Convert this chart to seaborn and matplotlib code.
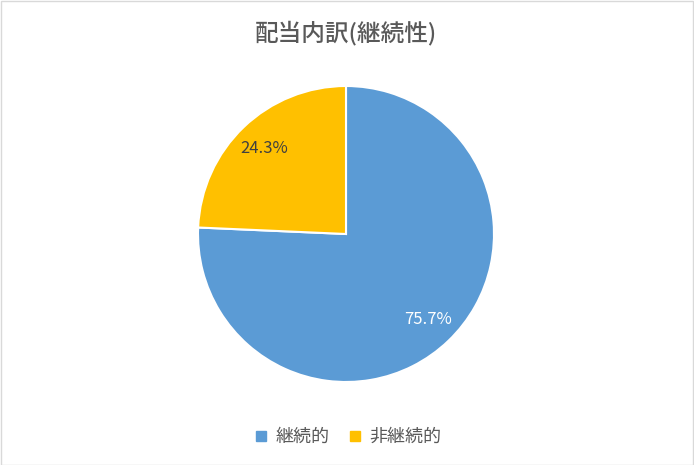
import matplotlib
matplotlib.use("Agg")
import matplotlib.pyplot as plt
import seaborn as sns
from matplotlib.patches import Rectangle
from matplotlib.lines import Line2D

sns.set_theme(style="white")
plt.rcParams['font.family'] = ['Noto Sans CJK JP', 'DejaVu Sans']

# data
categories = ['継続的', '非継続的']
shares = [75.7, 24.3]
colors = ['#5B9BD5', '#FFC000']
title = '配当内訳(継続性)'

W, H = 694, 465
fig = plt.figure(figsize=(W / 100, H / 100), dpi=100)
fig.patch.set_facecolor('white')
fig.patches.append(Rectangle((0.5 / W, 0.5 / H), 1 - 2 / W, 1 - 2 / H,
                             transform=fig.transFigure, fill=False,
                             edgecolor='#D9D9D9', linewidth=1))

cx, cy, r = 346, 231, 148
ax = fig.add_axes([(cx - r) / W, (cy - r) / H, 2 * r / W, 2 * r / H])
wedges, texts, autotexts = ax.pie(
    shares, colors=colors, startangle=90, counterclock=False,
    autopct='%1.1f%%', pctdistance=0.8, radius=1.0,
    wedgeprops=dict(edgecolor='white', linewidth=1.5),
    textprops=dict(fontsize=12))
autotexts[0].set_color('white')
autotexts[1].set_color('#404040')
ax.set_xlim(-1.0, 1.0)
ax.set_ylim(-1.0, 1.0)
ax.set_aspect('equal')
ax.axis('off')

fig.text(cx / W, 1 - 33 / H, title, ha='center', va='center',
         fontsize=17, color='#595959', fontweight='medium')

handles = [Line2D([0], [0], marker='s', linestyle='none', markersize=6.5,
                  markerfacecolor=c, markeredgecolor=c) for c in colors]
fig.legend(handles, categories, loc='center', bbox_to_anchor=(cx / W, 1 - 437 / H),
           ncol=2, frameon=False, fontsize=13, handletextpad=0.2,
           handlelength=1.2, columnspacing=0.8, labelcolor='#595959')

fig.savefig('out.png', dpi=100)
